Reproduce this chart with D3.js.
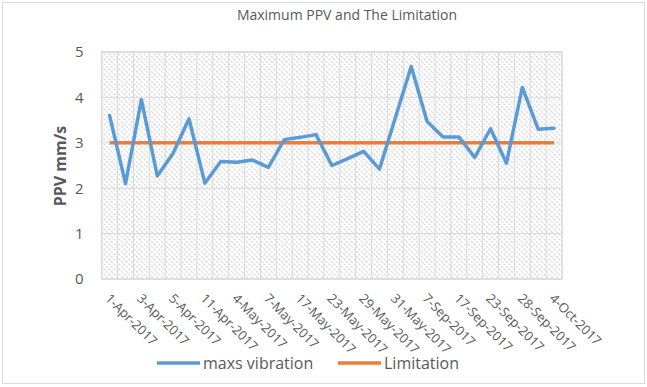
<!DOCTYPE html>
<html>
<head>
<meta charset="utf-8">
<script src="https://cdn.jsdelivr.net/npm/d3@7/dist/d3.min.js"></script>
<style>
  html, body { margin: 0; padding: 0; background: #fff; }
  svg { display: block; font-family: "Open Sans", "Liberation Sans", sans-serif; }
</style>
</head>
<body>
<svg id="chart" width="647" height="387"></svg>
<script>
const categories = ["1-Apr-2017","2-Apr-2017","3-Apr-2017","4-Apr-2017","5-Apr-2017","10-Apr-2017","11-Apr-2017","3-May-2017","4-May-2017","6-May-2017","7-May-2017","16-May-2017","17-May-2017","22-May-2017","23-May-2017","28-May-2017","29-May-2017","30-May-2017","31-May-2017","6-Sep-2017","7-Sep-2017","16-Sep-2017","17-Sep-2017","22-Sep-2017","23-Sep-2017","27-Sep-2017","28-Sep-2017","3-Oct-2017","4-Oct-2017"];
const maxsVibration = [3.60, 2.10, 3.95, 2.27, 2.77, 3.53, 2.11, 2.59, 2.57, 2.62, 2.46, 3.07, 3.12, 3.18, 2.50, 2.65, 2.81, 2.42, 3.55, 4.68, 3.47, 3.13, 3.13, 2.68, 3.31, 2.55, 4.22, 3.30, 3.32];
const limitation = [3,3,3,3,3,3,3,3,3,3,3,3,3,3,3,3,3,3,3,3,3,3,3,3,3,3,3,3,3];
const yTicks = [0, 1, 2, 3, 4, 5];
const seriesNames = ["maxs vibration", "Limitation"];
const titleText = "Maximum PPV and The Limitation";
const yTitle = "PPV mm/s";

const svg = d3.select("#chart");
const plot = { left: 101.7, right: 562, top: 52, bottom: 279 };

// chart border
svg.append("rect").attr("x", 2.5).attr("y", 2.5).attr("width", 642).attr("height", 381)
  .attr("fill", "#fff").attr("stroke", "#d9d9d9").attr("stroke-width", 1);

// hatch pattern
const defs = svg.append("defs");
const pat = defs.append("pattern").attr("id", "hatch").attr("patternUnits", "userSpaceOnUse")
  .attr("width", 5).attr("height", 5);
pat.append("rect").attr("width", 5).attr("height", 5).attr("fill", "#fff");
pat.append("path").attr("d", "M-1,-1 L6,6 M-1,4 L1,6 M4,-1 L6,1")
  .attr("stroke", "#d4d4d4").attr("stroke-width", 1.1).attr("stroke-dasharray", "2,1.2");

const x = d3.scaleBand().domain(categories).range([plot.left, plot.right]).padding(0);
const y = d3.scaleLinear().domain([0, 5]).range([plot.bottom, plot.top]);
const cx = d => x(d) + x.bandwidth() / 2;

svg.append("rect").attr("x", plot.left).attr("y", plot.top)
  .attr("width", plot.right - plot.left).attr("height", plot.bottom - plot.top)
  .attr("fill", "url(#hatch)");

// vertical gridlines at band boundaries
const grid = svg.append("g").attr("stroke", "#d9d9d9").attr("stroke-width", 1);
categories.forEach((c, i) => {
  if (i === 0) return;
  grid.append("line").attr("x1", x(c)).attr("x2", x(c)).attr("y1", plot.top).attr("y2", plot.bottom);
});
// horizontal gridlines
yTicks.forEach(t => {
  grid.append("line").attr("x1", plot.left).attr("x2", plot.right).attr("y1", y(t)).attr("y2", y(t));
});
// plot border
svg.append("rect").attr("x", plot.left).attr("y", plot.top)
  .attr("width", plot.right - plot.left).attr("height", plot.bottom - plot.top)
  .attr("fill", "none").attr("stroke", "#d9d9d9").attr("stroke-width", 1.5);

// y axis
const yAxis = svg.append("g").attr("transform", `translate(${plot.left - 18},0)`)
  .call(d3.axisLeft(y).tickValues(yTicks).tickFormat(d3.format("d")).tickSize(0).tickPadding(0));
yAxis.select(".domain").remove();
yAxis.selectAll("text").attr("fill", "#595959").style("font-size", "15px")
  .style("font-family", "'Open Sans', sans-serif");

// x axis
const xAxis = svg.append("g").attr("transform", `translate(0,${plot.bottom})`)
  .call(d3.axisBottom(x).tickSize(0).tickFormat((d, i) => i % 2 === 0 ? d : ""));
xAxis.select(".domain").remove();
xAxis.selectAll(".tick text")
  .attr("fill", "#595959").style("font-size", "13px")
  .style("font-family", "'Open Sans', sans-serif")
  .attr("text-anchor", "start")
  .attr("x", 0).attr("y", 0).attr("dy", "0.35em")
  .attr("transform", "translate(-2,17) rotate(45)");

// lines
const line = d3.line().x((d, i) => cx(categories[i])).y(d => y(d));
svg.append("path").datum(limitation).attr("d", line).attr("fill", "none")
  .attr("stroke", "#ED7D31").attr("stroke-width", 3.5).attr("stroke-linejoin", "round");
svg.append("path").datum(maxsVibration).attr("d", line).attr("fill", "none")
  .attr("stroke", "#5B9BD5").attr("stroke-width", 3.5).attr("stroke-linejoin", "round")
  .attr("stroke-linecap", "round");

// title
svg.append("text").attr("x", 347).attr("y", 20).attr("text-anchor", "middle")
  .attr("fill", "#595959").style("font-size", "14px").text(titleText);

// y title
svg.append("text").attr("transform", "translate(66,166) rotate(-90)")
  .attr("text-anchor", "middle").attr("fill", "#595959")
  .style("font-size", "16px").style("font-weight", "bold").text(yTitle);

// legend
const colors = ["#5B9BD5", "#ED7D31"];
const legendX = [157, 338];
seriesNames.forEach((n, i) => {
  const g = svg.append("g").attr("transform", `translate(${legendX[i]},363)`);
  g.append("line").attr("x1", 0).attr("x2", 43).attr("y1", 0).attr("y2", 0)
    .attr("stroke", colors[i]).attr("stroke-width", 3.5);
  g.append("text").attr("x", 46).attr("y", 0).attr("dy", "0.35em")
    .attr("fill", "#595959").style("font-size", "16px").text(n);
});
</script>
</body>
</html>
